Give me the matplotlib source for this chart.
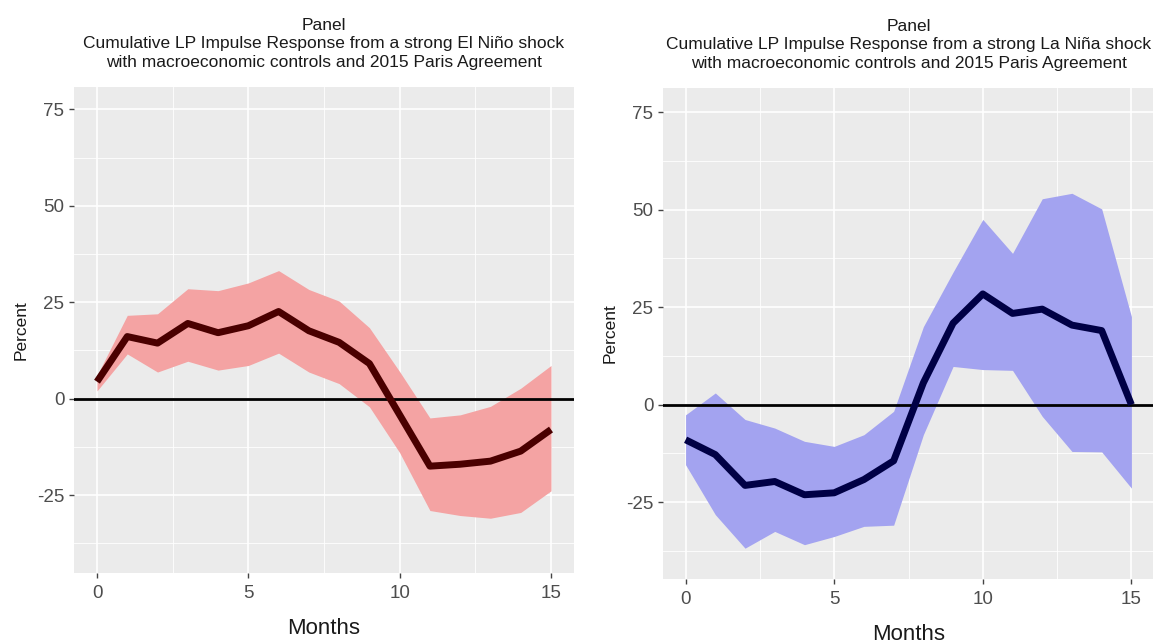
import matplotlib
matplotlib.use("Agg")
import matplotlib.pyplot as plt
import numpy as np

plt.rcParams['font.family'] = ['Liberation Sans', 'DejaVu Sans']
plt.rcParams['axes.unicode_minus'] = False

months = list(range(16))

# El Niño panel
nino_mean = [4.4, 16.1, 14.4, 19.5, 17.1, 18.9, 22.6, 17.6, 14.6, 9.1, -4.2, -17.5, -17.0, -16.2, -13.6, -8.0]
nino_upper = [6.0, 21.6, 22.0, 28.5, 28.0, 30.0, 33.2, 28.3, 25.3, 18.4, 7.0, -5.0, -4.2, -2.0, 2.7, 8.6]
nino_lower = [2.0, 11.6, 6.9, 9.7, 7.4, 8.6, 11.8, 6.9, 3.9, -2.1, -14.0, -29.0, -30.3, -31.0, -29.5, -23.9]

# La Niña panel
nina_mean = [-9.0, -12.8, -20.7, -19.7, -23.1, -22.6, -19.2, -14.4, 5.6, 20.9, 28.4, 23.4, 24.5, 20.4, 19.0, 0.0]
nina_upper = [-2.6, 3.0, -3.8, -6.0, -9.4, -10.7, -7.7, -1.7, 20.0, 34.0, 47.5, 38.8, 52.8, 54.2, 50.2, 22.6]
nina_lower = [-15.4, -28.2, -36.8, -32.5, -35.9, -33.8, -31.2, -30.9, -7.7, 9.8, 9.0, 8.8, -3.0, -12.0, -12.1, -21.4]

titles = [
    "Panel\nCumulative LP Impulse Response from a strong El Niño shock\nwith macroeconomic controls and 2015 Paris Agreement",
    "Panel\nCumulative LP Impulse Response from a strong La Niña shock\nwith macroeconomic controls and 2015 Paris Agreement",
]
xticks = [0, 5, 10, 15]
yticks = [-25, 0, 25, 50, 75]

W, H = 1153, 644
fig = plt.figure(figsize=(W / 100, H / 100), dpi=100)

panels = [
    dict(rect=[74 / W, 1 - 573 / H, (574 - 74) / W, (573 - 87) / H],
         mean=nino_mean, up=nino_upper, lo=nino_lower,
         fill="#f4a3a3", line="#4a0000", title=titles[0], ylim=(-45.2, 80.8)),
    dict(rect=[663 / W, 1 - 579 / H, (1154 - 663) / W, (579 - 88) / H],
         mean=nina_mean, up=nina_upper, lo=nina_lower,
         fill="#a3a3f0", line="#000045", title=titles[1], ylim=(-44.7, 81.2)),
]

for p in panels:
    ax = fig.add_axes(p["rect"])
    ax.set_facecolor("#ebebeb")
    for s in ax.spines.values():
        s.set_visible(False)
    ax.set_xlim(-0.76, 15.76)
    ax.set_ylim(*p["ylim"])
    ax.set_xticks(xticks)
    ax.set_yticks(yticks)
    ax.set_xticks([2.5, 7.5, 12.5], minor=True)
    ax.set_yticks([-37.5, -12.5, 12.5, 37.5, 62.5], minor=True)
    ax.grid(True, which="major", color="white", linewidth=1.2)
    ax.grid(True, which="minor", color="white", linewidth=0.6)
    ax.set_axisbelow(True)
    ax.tick_params(which="major", length=3.5, width=1, color="#444444", labelsize=13.5,
                   labelcolor="#4d4d4d")
    ax.tick_params(axis="x", which="major", pad=5)
    ax.tick_params(axis="y", which="major", pad=3.5)
    ax.tick_params(which="minor", length=0)
    ax.fill_between(months, p["lo"], p["up"], color=p["fill"], linewidth=0, zorder=2)
    ax.axhline(0, color="black", linewidth=2, zorder=3)
    ax.plot(months, p["mean"], color=p["line"], linewidth=5, zorder=4,
            solid_joinstyle="round", solid_capstyle="butt")
    ax.set_title(p["title"], fontsize=12.5, color="#1a1a1a", pad=14.5, linespacing=1.3)
    ax.set_xlabel("Months", fontsize=16, color="#1a1a1a", labelpad=12)
    ax.set_ylabel("Percent", fontsize=12.5, color="#1a1a1a", labelpad=6)

fig.savefig("out.png", dpi=100)
